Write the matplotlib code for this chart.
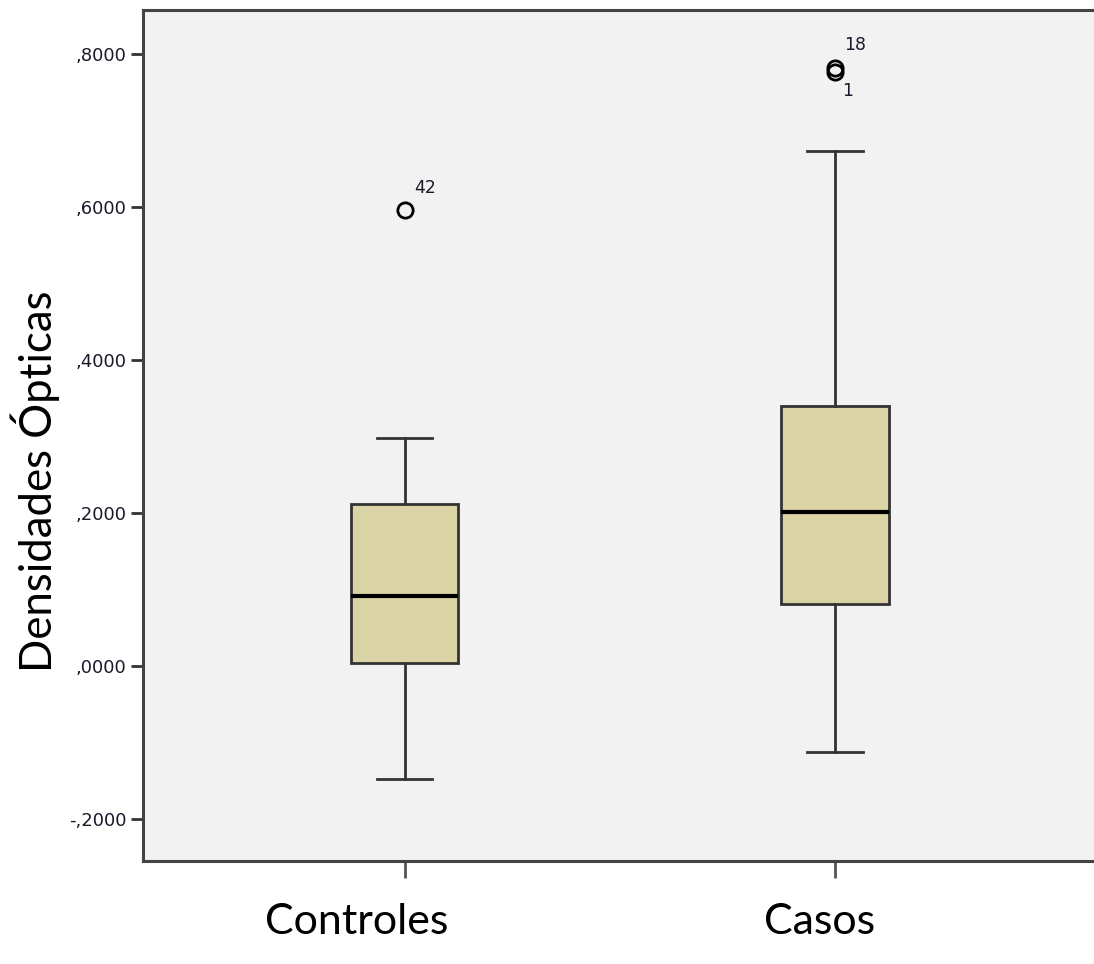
import matplotlib
matplotlib.use("Agg")
import matplotlib.pyplot as plt
from matplotlib.ticker import FuncFormatter

# Resumen de cajas (valores de densidad óptica)
grupos = ["Controles", "Casos"]
bigote_inf = [-0.148, -0.112]
cuartil_1 = [0.004, 0.081]
mediana = [0.0915, 0.201]
cuartil_3 = [0.212, 0.340]
bigote_sup = [0.298, 0.673]
atipicos = [[0.596], [0.782, 0.777]]
atipicos_id = [["42"], ["18", "1"]]
atipicos_offset = [[(20, 22)], [(20, 23), (13, -19)]]

yticks = [-0.2, 0.0, 0.2, 0.4, 0.6, 0.8]

plt.rcParams["font.family"] = ["DejaVu Sans"]

fig = plt.figure(figsize=(10.94, 9.64), dpi=100)
ax = fig.add_axes([0.1307, 0.1068, 0.872, 0.8828])
ax.set_facecolor("#F2F2F2")

posiciones = [1, 2]
stats = []
for i in range(len(grupos)):
    stats.append(dict(whislo=bigote_inf[i], q1=cuartil_1[i], med=mediana[i],
                      q3=cuartil_3[i], whishi=bigote_sup[i],
                      fliers=atipicos[i], label=grupos[i]))

ax.bxp(stats, positions=posiciones, widths=0.249, capwidths=0.128,
       patch_artist=True,
       boxprops=dict(facecolor="#D9D3A5", edgecolor="#333333", linewidth=2),
       medianprops=dict(color="black", linewidth=3),
       whiskerprops=dict(color="#333333", linewidth=2),
       capprops=dict(color="#333333", linewidth=2),
       flierprops=dict(marker="o", markersize=11, markerfacecolor="none",
                       markeredgecolor="black", markeredgewidth=2))

# Etiquetas de los casos atípicos
for i, pos in enumerate(posiciones):
    for val, nombre, off in zip(atipicos[i], atipicos_id[i], atipicos_offset[i]):
        ax.annotate(nombre, xy=(pos, val), xytext=off, textcoords="offset pixels",
                    ha="center", va="center", fontsize=12.5, color="#1a1a2a")

ax.set_xlim(0.391, 2.609)
ax.set_ylim(-0.255, 0.8575)
ax.set_yticks(yticks)
ax.yaxis.set_major_formatter(FuncFormatter(
    lambda v, p: ("-" if v < -1e-9 else "") + ("%.4f" % abs(v))[1:].replace(".", ",")))
ax.tick_params(axis="y", length=9, width=2, color="#333333", labelsize=13,
               labelcolor="#1a1a2a", pad=3)
ax.set_xticks(posiciones)
ax.set_xticklabels(["", ""])
ax.tick_params(axis="x", length=12, width=2, color="#555555")

for lado in ["left", "top", "bottom"]:
    ax.spines[lado].set_color("#444444")
    ax.spines[lado].set_linewidth(2.2)
ax.spines["right"].set_visible(False)

# Rótulos grandes añadidos sobre la figura
fuente = ["Lato", "DejaVu Sans"]
fig.text(0.326, 0.0436, "Controles", ha="center", va="center",
         fontsize=31, family=fuente)
fig.text(0.7495, 0.0436, "Casos", ha="center", va="center",
         fontsize=31, family=fuente)
fig.text(0.032, 0.501, "Densidades Ópticas", ha="center", va="center",
         rotation=90, fontsize=31.5, family=fuente)

fig.savefig("out.png", dpi=100)
